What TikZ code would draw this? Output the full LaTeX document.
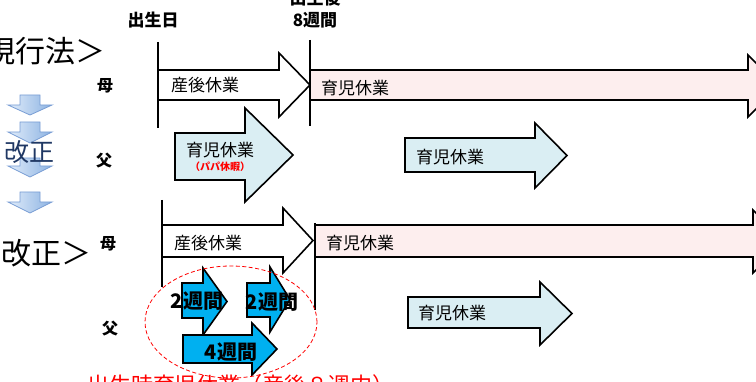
\documentclass[tikz,border=0pt]{standalone}
\usepackage{fontspec}
\setmainfont{Noto Sans CJK JP}
\usetikzlibrary{positioning}
\definecolor{ikujipink}{RGB}{253,238,238}
\definecolor{papablue}{RGB}{218,238,243}
\definecolor{weekcyan}{RGB}{0,176,240}
\definecolor{kaiseinavy}{RGB}{32,56,100}
\definecolor{downlight}{RGB}{224,236,250}
\definecolor{downdark}{RGB}{141,179,226}
\definecolor{downedge}{RGB}{120,157,212}
\tikzset{
  leavebox/.style={draw=black,line width=1.6pt,line join=miter,fill=white},
  ikujibox/.style={leavebox,fill=ikujipink},
  papabox/.style={leavebox,fill=papablue},
  weekbox/.style={leavebox,fill=weekcyan},
  downbox/.style={draw=downedge,line width=0.8pt,left color=downlight,right color=downdark},
  timeline/.style={line width=1.6pt},
  leavetext/.style={font=\fontsize{17}{20}\selectfont,inner sep=0pt},
  weektext/.style={font=\bfseries\fontsize{20}{22}\selectfont,inner sep=0pt},
  rolelabel/.style={font=\bfseries\fontsize{16}{18}\selectfont,inner sep=0pt},
  headlabel/.style={font=\bfseries\fontsize{17}{22}\selectfont,inner sep=0pt,align=center},
  lawlabel/.style={font=\fontsize{30}{32}\selectfont,inner sep=0pt},
}
% #1 style, #2 left, #3/#4 shaft top/bottom, #5 head start, #6/#7 head top/bottom, #8 tip
\newcommand{\blockarrow}[8]{%
  \draw[#1] (#2,#3) -- (#5,#3) -- (#5,#6) -- (#8,{(#6+#7)/2}) -- (#5,#7)
    -- (#5,#4) -- (#2,#4) -- cycle;}
% #1 shaft left, #2 shaft right, #3 top, #4 head start, #5/#6 head left/right, #7 tip
\newcommand{\downblock}[7]{%
  \draw[downbox] (#1,#3) -- (#2,#3) -- (#2,#4) -- (#6,#4) -- ({(#5+#6)/2},#7)
    -- (#5,#4) -- (#1,#4) -- cycle;}

\begin{document}
\begin{tikzpicture}[x=1pt,y=-1pt]
  \useasboundingbox (0,0) rectangle (756,382);
  \clip (0,0) rectangle (756,382);

  % headings
  \node[headlabel] (birth) at (153,20) {出生日};
  \node[headlabel] (week8) at (315,9) {出生後\\8週間};
  \node[lawlabel,anchor=east] (oldlaw) at (106,51) {現行法＞};
  \node[lawlabel,anchor=west] (newlaw) at (1,253) {改正＞};

  % down arrows
  \downblock{20}{40}{95}{105}{8}{52}{115}
  \downblock{20}{40}{122}{132}{8}{52}{143}
  \downblock{20}{40}{158}{166}{8}{52}{177}
  \downblock{20}{40}{192}{202}{8}{52}{213}
  \node[font=\fontsize{25}{27}\selectfont,text=kaiseinavy,inner sep=0pt]
       (kaisei) at (30,152) {改正};

  % current law
  \node[rolelabel] (mom1) at (105,86) {母};
  \node[rolelabel] (dad1) at (104,161) {父};
  \draw[timeline] (158,42) -- (158,128);
  \draw[timeline] (310,40) -- (310,126);
  \blockarrow{leavebox}{158}{70}{100}{279}{53}{117}{310}
  \blockarrow{ikujibox}{310}{70}{100}{748}{55}{117}{779}
  \blockarrow{papabox}{175}{133}{180}{245}{108}{202}{293}
  \blockarrow{papabox}{405}{138}{172}{535}{123}{188}{567}
  \node[leavetext] (sango1) at (205,85) {産後休業};
  \node[leavetext] (ikuji1) at (355,88) {育児休業};
  \node[leavetext] (papa1) at (220,150) {育児休業};
  \node[font=\bfseries\fontsize{10}{12}\selectfont,text=red,inner sep=0pt,
       below=4pt of papa1] (papakyuka) {（パパ休暇）};
  \node[leavetext] (ikuji2) at (450,157) {育児休業};

  % amended law
  \node[rolelabel] (mom2) at (108,244) {母};
  \node[rolelabel] (dad2) at (110,329) {父};
  \draw[timeline] (162,200) -- (162,287);
  \draw[timeline] (315,223) -- (315,310);
  \blockarrow{leavebox}{162}{225}{257}{283}{208}{273}{313}
  \blockarrow{ikujibox}{315}{225}{257}{753}{210}{273}{785}
  \blockarrow{papabox}{408}{297}{328}{540}{282}{345}{572}
  \node[leavetext] (sango2) at (208,243) {産後休業};
  \node[leavetext] (ikuji3) at (360,243) {育児休業};
  \node[leavetext] (ikuji4) at (452,313) {育児休業};

  \blockarrow{weekbox}{182}{283}{318}{203}{268}{335}{227}
  \blockarrow{weekbox}{247}{283}{317}{270}{267}{332}{290}
  \blockarrow{weekbox}{183}{335}{363}{252}{323}{375}{277}
  \node[weektext] (twoa) at (197,301) {2週間};
  \node[weektext] (twob) at (272,302) {2週間};
  \node[weektext] (four) at (231,352) {4週間};
  \draw[red,line width=0.8pt,dash pattern=on 4pt off 2.5pt]
       (231,322) ellipse [x radius=86pt,y radius=56pt];

  \node[font=\fontsize{22}{24}\selectfont,text=red,inner sep=0pt,anchor=base]
       (shussei) at (241,394) {出生時育児休業（産後８週内）};
\end{tikzpicture}
\end{document}
